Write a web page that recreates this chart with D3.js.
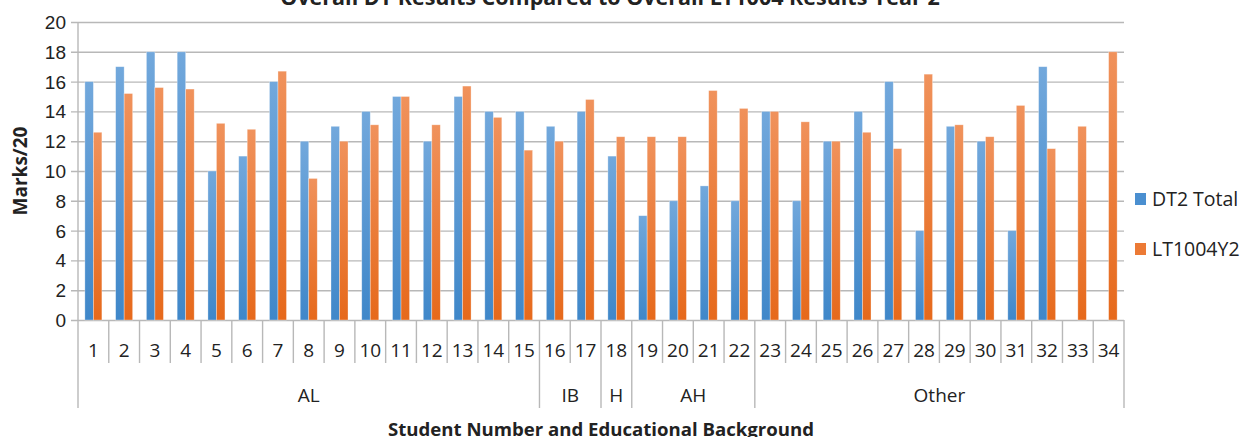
<!DOCTYPE html>
<html>
<head>
<meta charset="utf-8">
<script src="https://cdn.jsdelivr.net/npm/d3@7"></script>
<style>
  body { margin: 0; background: #fff; }
  svg { display: block; font-family: "Open Sans", sans-serif; }
</style>
</head>
<body>
<svg id="chart" width="1241" height="437"></svg>
<script>
// data
const students = ["1","2","3","4","5","6","7","8","9","10","11","12","13","14","15","16","17",
    "18","19","20","21","22","23","24","25","26","27","28","29","30","31","32","33","34"];
const groupNames = ["AL", "IB", "H", "AH", "Other"];
const groupSizes = [15, 2, 1, 4, 12];
const dt2Total = [16, 17, 18, 18, 10, 11, 16, 12, 13, 14, 15, 12, 15, 14, 14, 13, 14,
    11, 7, 8, 9, 8, 14, 8, 12, 14, 16, 6, 13, 12, 6, 17, null, null];
const lt1004 = [12.6, 15.2, 15.6, 15.5, 13.2, 12.8, 16.7, 9.5, 12, 13.1, 15, 13.1, 15.7, 13.6, 11.4, 12, 14.8,
    12.3, 12.3, 12.3, 15.4, 14.2, 14, 13.3, 12, 12.6, 11.5, 16.5, 13.1, 12.3, 14.4, 11.5, 13, 18];
const seriesNames = ["DT2 Total", "LT1004Y2"];
const yTicks = [0, 2, 4, 6, 8, 10, 12, 14, 16, 18, 20];

const svg = d3.select("#chart");
const pLeft = 78, pRight = 1124, pTop = 22, pBottom = 320;
const grid = "#b8b8b8";

// gradients like the office bars
const defs = svg.append("defs");
let grad = function (id, c1, c2) {
    let g = defs.append("linearGradient").attr("id", id)
        .attr("x1", 0).attr("y1", 0).attr("x2", 0).attr("y2", 1);
    g.append("stop").attr("offset", "0%").attr("stop-color", c1);
    g.append("stop").attr("offset", "100%").attr("stop-color", c2);
};
grad("gBlue", "#72a8dc", "#3f87c9");
grad("gOrange", "#f0925c", "#e6691b");
const fills = ["url(#gBlue)", "url(#gOrange)"];
const legendFills = ["#4a8fd0", "#ec7a35"];

const y = d3.scaleLinear().domain([0, 20]).range([pBottom, pTop]);
const x0 = d3.scaleBand().domain(students).range([pLeft, pRight])
    .paddingInner(0.447).paddingOuter(0.2235);
const x1 = d3.scaleBand().domain([0, 1]).range([0, x0.bandwidth()]);
const step = x0.step();

// gridlines + y axis
const yAxis = d3.axisLeft(y).tickValues(yTicks).tickSize(pRight - pLeft + 7).tickPadding(5);
const gy = svg.append("g").attr("transform", `translate(${pRight},0)`).call(yAxis);
gy.select(".domain").remove();
gy.selectAll(".tick line").attr("stroke", grid).attr("stroke-width", 1.4);
gy.selectAll(".tick text").attr("font-size", 19).attr("fill", "#222").attr("dy", "0.34em");

svg.append("line").attr("x1", pLeft).attr("x2", pLeft).attr("y1", pTop).attr("y2", 408)
    .attr("stroke", grid).attr("stroke-width", 1.4);

// bars
const series = [dt2Total, lt1004];
const cats = svg.append("g").selectAll("g").data(students).join("g")
    .attr("transform", d => `translate(${x0(d)},0)`);
cats.selectAll("rect")
    .data((d, i) => series.map((s, k) => ({ k: k, v: s[i] })).filter(e => e.v != null))
    .join("rect")
    .attr("x", e => x1(e.k))
    .attr("width", x1.bandwidth())
    .attr("y", e => y(e.v))
    .attr("height", e => y(0) - y(e.v))
    .attr("fill", e => fills[e.k])
    .attr("stroke", "#fff").attr("stroke-opacity", 0.45).attr("stroke-width", 0.7);

// category separators and labels
const catEdge = i => pLeft + i * step;
svg.append("g").selectAll("line").data(d3.range(1, students.length + 1)).join("line")
    .attr("x1", catEdge).attr("x2", catEdge)
    .attr("y1", pBottom).attr("y2", 363)
    .attr("stroke", grid).attr("stroke-width", 1.4);
svg.append("g").selectAll("text").data(students).join("text")
    .attr("x", d => x0(d) + x0.bandwidth() / 2)
    .attr("y", 350).attr("dy", "0.35em")
    .attr("text-anchor", "middle").attr("font-size", 19).attr("fill", "#222")
    .text(d => d);

// group separators and labels
const groupEnds = d3.cumsum(groupSizes);
svg.append("g").selectAll("line").data(groupEnds).join("line")
    .attr("x1", d => catEdge(d)).attr("x2", d => catEdge(d))
    .attr("y1", 363).attr("y2", 408)
    .attr("stroke", grid).attr("stroke-width", 1.4);
svg.append("g").selectAll("text").data(groupNames).join("text")
    .attr("x", (d, i) => catEdge(groupEnds[i] - groupSizes[i] / 2))
    .attr("y", 395).attr("dy", "0.35em")
    .attr("text-anchor", "middle").attr("font-size", 19).attr("fill", "#222")
    .text(d => d);

// titles
svg.append("text").attr("x", 610).attr("y", 5)
    .attr("text-anchor", "middle").attr("font-size", 21.5).attr("font-weight", "bold").attr("fill", "#222")
    .text("Overall DT Results Compared to Overall LT1004 Results Year 2");
svg.append("text").attr("x", (pLeft + pRight) / 2).attr("y", 436)
    .attr("text-anchor", "middle").attr("font-size", 18.6).attr("font-weight", "bold").attr("fill", "#222")
    .text("Student Number and Educational Background");
svg.append("text").attr("transform", `translate(27,${(pTop + pBottom) / 2}) rotate(-90)`)
    .attr("text-anchor", "middle").attr("font-size", 19).attr("font-weight", "bold").attr("fill", "#222")
    .text("Marks/20");

// legend
const lg = svg.append("g").selectAll("g").data(seriesNames).join("g")
    .attr("transform", (d, i) => `translate(1135,${193 + i * 50})`);
lg.append("rect").attr("width", 11).attr("height", 12).attr("fill", (d, i) => legendFills[i]);
lg.append("text").attr("x", 17).attr("y", 6).attr("dy", "0.35em")
    .attr("font-size", 19.5).attr("fill", "#222").text(d => d);
</script>
</body>
</html>
